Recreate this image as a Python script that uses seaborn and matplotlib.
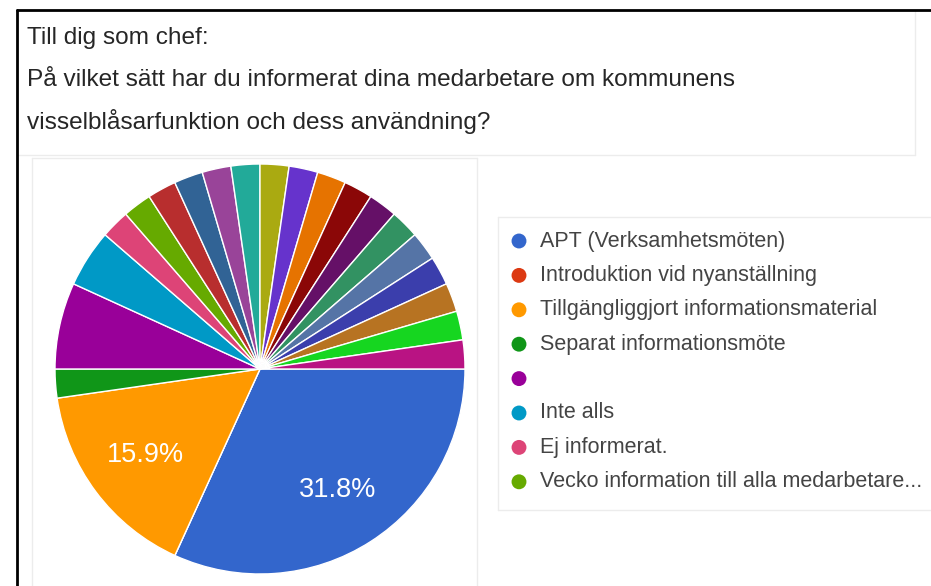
import matplotlib.pyplot as plt
import seaborn as sns

# svar per alternativ (44 svar totalt), i Google Forms ordning
svar = ["APT (Verksamhetsmöten)", "Introduktion vid nyanställning",
        "Tillgängliggjort informationsmaterial", "Separat informationsmöte",
        "", "Inte alls", "Ej informerat.", "Vecko information till alla medarbetare...",
        "övrigt 1", "övrigt 2", "övrigt 3", "övrigt 4", "övrigt 5", "övrigt 6",
        "övrigt 7", "övrigt 8", "övrigt 9", "övrigt 10", "övrigt 11", "övrigt 12",
        "övrigt 13", "övrigt 14", "övrigt 15"]
antal = [14, 0, 7, 1, 3, 2, 1, 1,
         1, 1, 1, 1, 1, 1, 1, 1, 1, 1, 1, 1, 1, 1, 1]
farger = ["#3366cc", "#dc3912", "#ff9900", "#109618", "#990099", "#0099c6",
          "#dd4477", "#66aa00", "#b82e2e", "#316395", "#994499", "#22aa99",
          "#aaaa11", "#6633cc", "#e67300", "#8b0707", "#651067", "#329262",
          "#5574a6", "#3b3eac", "#b77322", "#16d620", "#b91383"]
antal_i_legend = 8

titel = ["Till dig som chef:",
         "På vilket sätt har du informerat dina medarbetare om kommunens",
         "visselblåsarfunktion och dess användning?"]

sns.set_theme(style="white")
plt.rcParams['font.family'] = ['Liberation Sans', 'DejaVu Sans']

W, H = 931, 586
fig = plt.figure(figsize=(W / 100, H / 100), dpi=100)

# overlay i pixelkoordinater för ramar, rubrik och legend
bg = fig.add_axes([0, 0, 1, 1])
bg.set_xlim(0, W)
bg.set_ylim(H, 0)
bg.axis('off')

# svag panelram runt rubrik, diagram och legend
ljus = "#ececec"
bg.plot([17, 915], [155, 155], color=ljus, lw=1)
bg.plot([915, 915], [10, 155], color=ljus, lw=1)
bg.plot([32, 32], [158, H], color=ljus, lw=1)
bg.plot([32, 477], [158, 158], color=ljus, lw=1)
bg.plot([477, 477], [158, H], color=ljus, lw=1)
bg.plot([498, W], [217, 217], color=ljus, lw=1)
bg.plot([498, 498], [217, 510], color=ljus, lw=1)
bg.plot([498, W], [510, 510], color=ljus, lw=1)

# svart skärmdumpsram
bg.plot([17, 17], [10, H], color="black", lw=2)
bg.plot([17, W], [10, 10], color="black", lw=2)

for i, rad in enumerate(titel):
    bg.text(27, 38 + i * 42, rad, fontsize=17.6, color="#262626", va="center", ha="left")

# legend (bara de första åtta syns)
for i in range(antal_i_legend):
    y = 241 + i * 34.4
    bg.scatter([519], [y], s=115, color=farger[i], edgecolor="none", zorder=3)
    bg.text(540, y, svar[i], fontsize=15.5, color="#444444", va="center", ha="left")

# pajen
ax = fig.add_axes([55 / W, (H - 574) / H, 410 / W, 410 / H])
ax.pie(antal, colors=sns.color_palette(farger), startangle=0, counterclock=False,
       wedgeprops=dict(edgecolor="white", linewidth=1),
       autopct=lambda p: f"{p:.1f}%" if p >= 10 else "", pctdistance=0.70,
       textprops=dict(color="white", fontsize=19.5))
ax.set_xlim(-1, 1)
ax.set_ylim(-1, 1)
ax.set_aspect('equal')
ax.axis('off')

fig.savefig("out.png", dpi=100)
